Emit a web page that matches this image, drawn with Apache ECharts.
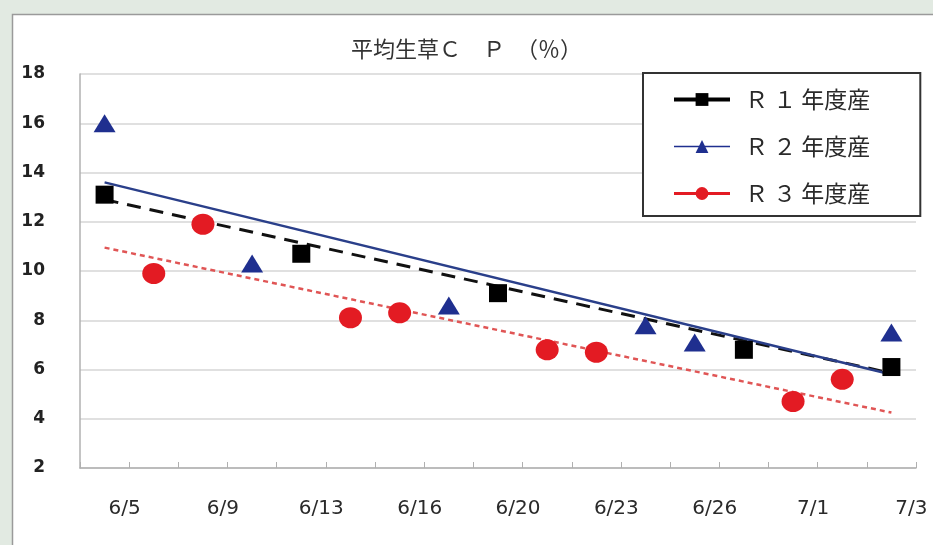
<!DOCTYPE html>
<html>
<head>
<meta charset="utf-8">
<script src="https://cdn.jsdelivr.net/npm/echarts@6/dist/echarts.min.js"></script>
<style>
html,body{margin:0;padding:0;background:#e2eae2;}
#c{width:933px;height:545px;}
</style>
</head>
<body>
<div id="c"></div>
<script>
// categories (17 sampling slots; only every other slot is labelled)
const categories = ['6/5','','6/9','','6/13','','6/16','','6/20','','6/23','','6/26','','7/1','','7/3'];
const seriesNames = ['Ｒ １ 年度産','Ｒ ２ 年度産','Ｒ ３ 年度産'];
// observed values
const r1 = [13.1,null,null,null,10.7,null,null,null,9.1,null,null,null,null,6.8,null,null,6.1];
const r2 = [16.0,null,null,10.3,null,null,null,8.6,null,null,null,7.8,7.1,null,null,null,7.5];
const r3 = [null,9.9,11.9,null,null,8.1,8.3,null,null,6.8,6.7,null,null,null,4.7,5.6,null];
// trend line endpoints (first and last slot)
const r1Trend = [12.9,null,null,null,null,null,null,null,null,null,null,null,null,null,null,null,5.85];
const r2Trend = [13.6,null,null,null,null,null,null,null,null,null,null,null,null,null,null,null,5.8];
const r3Trend = [10.95,null,null,null,null,null,null,null,null,null,null,null,null,null,null,null,4.25];
const yTicks = {min:2, max:18, interval:2};

const chart = echarts.init(document.getElementById('c'));
const cjk = '"Noto Sans CJK JP", "Noto Sans", sans-serif';
chart.setOption({
  animation:false,
  backgroundColor:'transparent',
  graphic:[{type:'rect', z:-100, shape:{x:12.5,y:14.5,width:940,height:560},
    style:{fill:'#ffffff', stroke:'#9a9a9a', lineWidth:1.5}}],
  title:{text:'平均生草Ｃ　Ｐ　（％）', left:'center', top:33,
    textStyle:{fontFamily:cjk, fontSize:22, fontWeight:'normal', color:'#333'}},
  grid:{left:80, right:17, top:74, bottom:77},
  legend:{
    orient:'vertical', left:643, top:73,
    data:[
      {name:seriesNames[0], lineStyle:{width:4, color:'#000', opacity:1}},
      {name:seriesNames[1], lineStyle:{width:1.5, color:'#1f2f8f', opacity:1}},
      {name:seriesNames[2], lineStyle:{width:3, color:'#e31b23', opacity:1}}
    ],
    itemWidth:56, itemHeight:16, itemGap:24,
    padding:[15,50,11,29],
    borderColor:'#333', borderWidth:2, backgroundColor:'#fff',
    textStyle:{fontFamily:cjk, fontSize:23, color:'#2a2a2a', padding:[0,0,0,10]}
  },
  xAxis:{
    type:'category', data:categories, boundaryGap:true,
    axisLine:{lineStyle:{color:'#b0b0b0', width:1.5}},
    axisTick:{show:true, inside:true, length:6, interval:0, lineStyle:{color:'#b0b0b0'}},
    axisLabel:{interval:0, margin:31, fontSize:20, color:'#2a2a2a', fontFamily:'"DejaVu Sans", sans-serif',
      padding:[0,0,0,40]},
    splitLine:{show:false}
  },
  yAxis:{
    type:'value', min:yTicks.min, max:yTicks.max, interval:yTicks.interval,
    axisLine:{show:true, lineStyle:{color:'#b0b0b0', width:1.5}},
    axisTick:{show:false},
    axisLabel:{margin:35, fontSize:17, fontWeight:'bold', color:'#222', fontFamily:'"DejaVu Sans", sans-serif'},
    splitLine:{lineStyle:{color:'#d6d6d6', width:1.5}}
  },
  series:[
    {name:'t1', type:'line', data:r1Trend, connectNulls:true, symbol:'none', z:3,
      lineStyle:{color:'#111', width:3, type:[14,9]}},
    {name:'t2', type:'line', data:r2Trend, connectNulls:true, symbol:'none', z:3,
      lineStyle:{color:'#2a3f8a', width:2.5}},
    {name:'t3', type:'line', data:r3Trend, connectNulls:true, symbol:'none', z:3,
      lineStyle:{color:'#e05555', width:2.5, type:[5,4]}},
    {name:seriesNames[0], type:'line', data:r1, symbol:'rect', symbolSize:18, z:5,
      itemStyle:{color:'#000'}, lineStyle:{opacity:0}},
    {name:seriesNames[1], type:'line', data:r2, symbol:'triangle', symbolSize:[22,18], z:5,
      itemStyle:{color:'#1f2f8f'}, lineStyle:{opacity:0}},
    {name:seriesNames[2], type:'line', data:r3, symbol:'circle', symbolSize:[23,21], z:5,
      itemStyle:{color:'#e31b23'}, lineStyle:{opacity:0}}
  ]
});
</script>
</body>
</html>
